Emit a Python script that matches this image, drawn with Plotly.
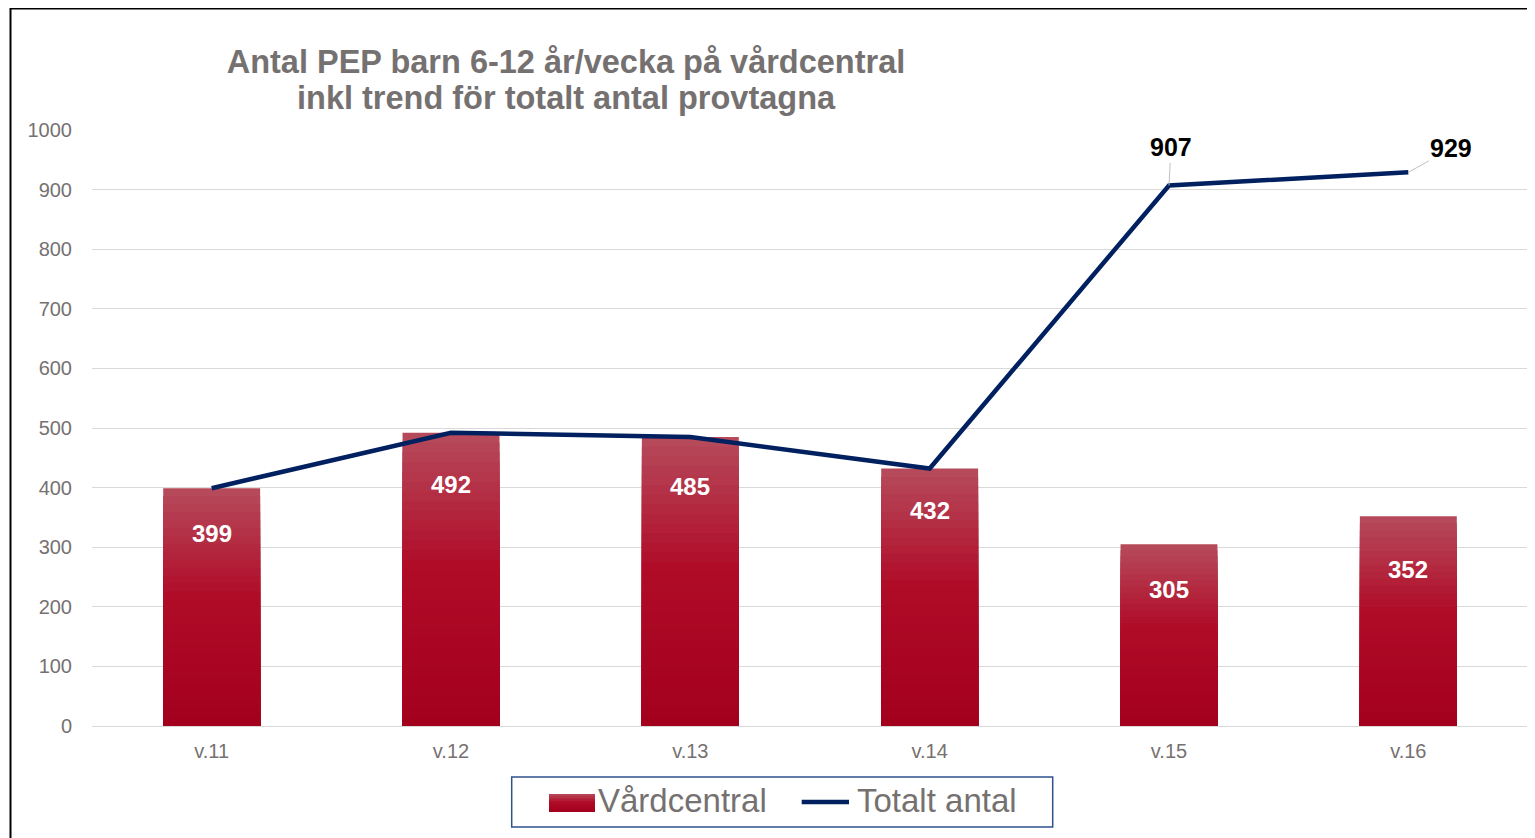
import plotly.graph_objects as go

weeks = ["v.11", "v.12", "v.13", "v.14", "v.15", "v.16"]
vardcentral = [399, 492, 485, 432, 305, 352]
totalt = [399, 492, 485, 432, 907, 929]
labelled_total_idx = [4, 5]

title_line1 = "Antal PEP barn 6-12 år/vecka på vårdcentral"
title_line2 = "inkl trend för totalt antal provtagna"
legend_names = ["Vårdcentral", "Totalt antal"]

# label placement (pixels below bar top) - style, not data
bar_label_drop = [45, 52, 50, 41.5, 45, 53]

# page body has an 8px margin; the figure is sized to fill the rest of the window
OFF = 8
W, H = 1535 - OFF, 838 - OFF
ML, MR, MT, MB = 92 - OFF, 7, 130 - OFF, 112
PW, PH = W - ML - MR, H - MT - MB

def px_x(px):
    """page pixel x -> paper x"""
    return (px - OFF - ML) / PW

def px_y(py):
    """page pixel y -> paper y"""
    return (H - MB - (py - OFF)) / PH

FONT = "Arial, Liberation Sans, sans-serif"
GRAY = "#767171"
NAVY = "#002060"

# gradient stops for bars (fraction of bar height -> rgb)
stops = [(0.0, (163, 0, 30)), (0.55, (176, 12, 40)), (1.0, (182, 76, 92))]

def grad_color(t):
    for (t0, c0), (t1, c1) in zip(stops[:-1], stops[1:]):
        if t0 <= t <= t1:
            a = (t - t0) / (t1 - t0)
            c = [round(c0[i] + a * (c1[i] - c0[i])) for i in range(3)]
            return f"rgb({c[0]},{c[1]},{c[2]})"
    c = stops[-1][1]
    return f"rgb({c[0]},{c[1]},{c[2]})"

fig = go.Figure()

N = 30
for k in range(N):
    f = 1 - k / N
    mid = f - 0.5 / N
    fig.add_trace(go.Bar(
        x=weeks,
        y=[v * f for v in vardcentral],
        name=legend_names[0],
        marker=dict(color=grad_color(mid), line=dict(width=0)),
        showlegend=False,
        legendgroup="vc",
        hoverinfo="skip",
    ))

fig.add_trace(go.Scatter(
    x=weeks,
    y=totalt,
    mode="lines",
    name=legend_names[1],
    line=dict(color=NAVY, width=4.5),
    showlegend=False,
    hoverinfo="skip",
))

annotations = []
# bar value labels
for w, v, d in zip(weeks, vardcentral, bar_label_drop):
    annotations.append(dict(
        x=w, y=v, xref="x", yref="y", text=f"<b>{v}</b>", showarrow=False,
        yshift=-d, font=dict(family=FONT, size=24, color="white"),
    ))

# line value labels with leader lines
offsets = {4: (2, -38), 5: (43, -24)}
for i in labelled_total_idx:
    ax, ay = offsets[i]
    annotations.append(dict(
        x=weeks[i], y=totalt[i], xref="x", yref="y", text=f"<b>{totalt[i]}</b>",
        showarrow=True, arrowhead=0, arrowwidth=1, arrowcolor="#bfbfbf",
        ax=ax, ay=ay, standoff=0,
        font=dict(family=FONT, size=25, color="black"),
    ))

# second title line
annotations.append(dict(
    x=px_x(566), y=px_y(98.5), xref="paper", yref="paper",
    xanchor="center", yanchor="middle", showarrow=False,
    text=f"<b>{title_line2}</b>",
    font=dict(family=FONT, size=32.5, color=GRAY),
))

# legend texts
annotations.append(dict(
    x=px_x(596), y=px_y(801), xref="paper", yref="paper",
    xanchor="left", yanchor="middle", showarrow=False,
    text=legend_names[0], font=dict(family=FONT, size=33, color=GRAY),
))
annotations.append(dict(
    x=px_x(855), y=px_y(801), xref="paper", yref="paper",
    xanchor="left", yanchor="middle", showarrow=False,
    text=legend_names[1], font=dict(family=FONT, size=33, color=GRAY),
))

shapes = [
    # outer chart border
    dict(type="rect", xref="paper", yref="paper",
         x0=px_x(10.5), x1=1.5, y0=-1, y1=px_y(8.5),
         line=dict(color="black", width=2), fillcolor="rgba(0,0,0,0)"),
    # legend box
    dict(type="rect", xref="paper", yref="paper",
         x0=px_x(511.7), x1=px_x(1052.7), y0=px_y(827), y1=px_y(777),
         line=dict(color="#2F528F", width=1.5), fillcolor="white"),
    # legend line symbol
    dict(type="line", xref="paper", yref="paper",
         x0=px_x(801.7), x1=px_x(849), y0=px_y(802), y1=px_y(802),
         line=dict(color=NAVY, width=4.5)),
]
# legend swatch with gradient (overlapping layers, tallest first)
SW_TOP, SW_BOT = 794, 811.7
NS = 8
for k in range(NS):
    t_hi = 1 - k / NS
    shapes.append(dict(
        type="rect", xref="paper", yref="paper",
        x0=px_x(549), x1=px_x(595),
        y0=px_y(SW_BOT),
        y1=px_y(SW_BOT - t_hi * (SW_BOT - SW_TOP)),
        line=dict(width=0), fillcolor=grad_color(t_hi - 0.5 / NS),
    ))

fig.update_layout(
    width=W, height=H,
    margin=dict(l=ML, r=MR, t=MT, b=MB),
    paper_bgcolor="white", plot_bgcolor="white",
    barmode="overlay", bargap=0.595,
    showlegend=False,
    title=dict(
        text=f"<b>{title_line1}</b>",
        x=(566 - OFF) / W, xanchor="center",
        y=1 - (61.7 - OFF) / H, yanchor="middle",
        font=dict(family=FONT, size=32.5, color=GRAY),
    ),
    font=dict(family=FONT, color=GRAY),
    xaxis=dict(
        showgrid=False, showline=False, zeroline=False, ticks="",
        tickfont=dict(size=20, color=GRAY),
        ticklabelstandoff=11,
    ),
    yaxis=dict(
        range=[0, 1000], dtick=100, tick0=0,
        gridcolor="#d9d9d9", gridwidth=1,
        zeroline=True, zerolinecolor="#d9d9d9", zerolinewidth=1,
        showline=False, ticks="",
        tickfont=dict(size=20, color=GRAY),
        ticklabelstandoff=19,
    ),
    annotations=annotations,
    shapes=shapes,
)

fig.write_html("out.html")
